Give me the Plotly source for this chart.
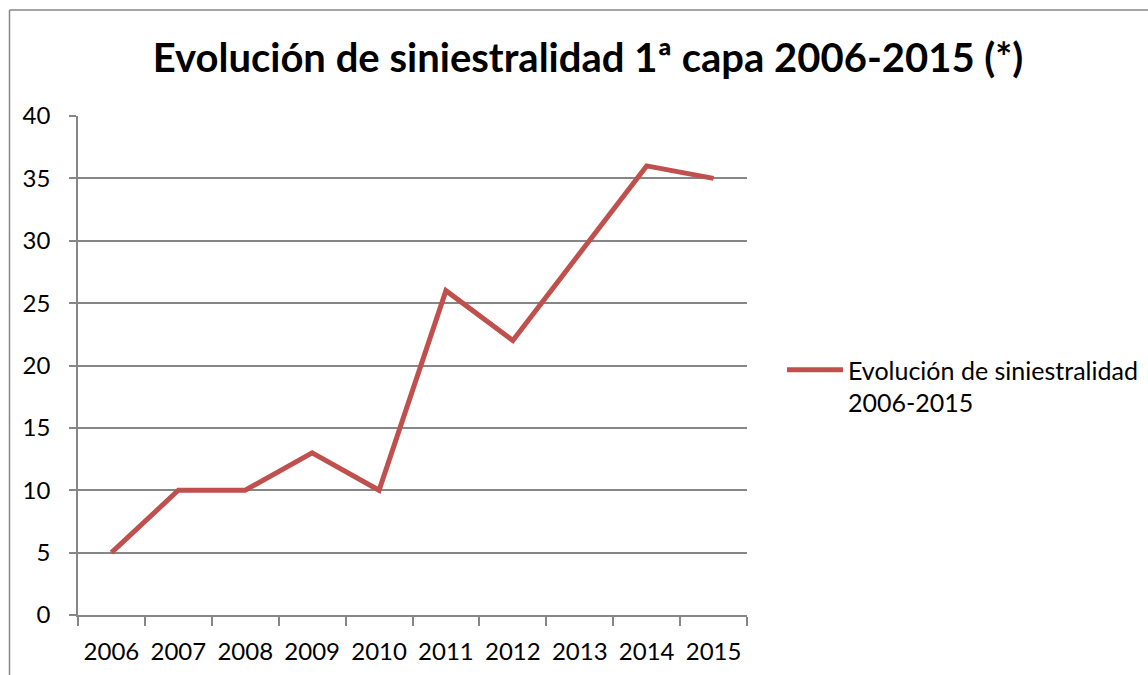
import plotly.graph_objects as go

years = ["2006", "2007", "2008", "2009", "2010", "2011", "2012", "2013", "2014", "2015"]
values = [5, 10, 10, 13, 10, 26, 22, 29, 36, 35]
series_name = "Evolución de siniestralidad<br>2006-2015"
title_text = "<b>Evolución de siniestralidad 1ª capa 2006-2015 (*)</b>"

FONT = "Lato"

fig = go.Figure()
fig.add_trace(go.Scatter(
    x=years, y=values, mode="lines", name=series_name,
    line=dict(color="#C0504D", width=5),
))

W, H = 1148, 675
PL, PR, PT, PB = 78, 747, 116, 615  # pixel coordinates of plot area
L, T = PL, PT
pw, ph = PR - PL, PB - PT
R = W - L - pw
B = H - T - ph

def px2x(px):
    return (px - PL) / pw

def py2y(py):
    return (PB - py) / ph

fig.update_layout(
    width=W, height=H,
    margin=dict(l=L, r=R, t=T, b=B, autoexpand=False),
    paper_bgcolor="white", plot_bgcolor="white",
    font=dict(family=FONT, size=24, color="#000000"),
    title=dict(text=title_text, x=588 / W, xanchor="center",
               y=1 - 58 / H, yanchor="middle",
               font=dict(family=FONT, size=40, color="#000000")),
    showlegend=True,
    legend=dict(x=px2x(782), y=py2y(347), xanchor="left", yanchor="top",
                font=dict(family=FONT, size=25), itemwidth=56, tracegroupgap=0,
                valign="top", bgcolor="rgba(0,0,0,0)"),
    xaxis=dict(
        type="category", showgrid=False, showline=True, linecolor="#868686", linewidth=1.5,
        ticks="outside", ticklen=9, tickcolor="#868686", tickwidth=1.5,
        tickson="boundaries", tickfont=dict(family=FONT, size=24), fixedrange=True,
        range=[-0.5, 9.5], ticklabelstandoff=14, automargin=False,
    ),
    yaxis=dict(
        range=[0, 40], dtick=5, showgrid=True, gridcolor="#868686", gridwidth=1.5,
        showline=True, linecolor="#868686", linewidth=1.5, zeroline=False,
        ticks="outside", ticklen=7, tickcolor="#868686", tickwidth=1.5,
        tickfont=dict(family=FONT, size=24), ticklabelstandoff=14, fixedrange=True,
        automargin=False,
    ),
)

# chart-area border (top and left edges visible in the frame)
fig.add_shape(type="line", xref="paper", yref="paper",
              x0=px2x(9.5), x1=px2x(W + 2), y0=py2y(10), y1=py2y(10),
              line=dict(color="#868686", width=1.5), layer="below")
fig.add_shape(type="line", xref="paper", yref="paper",
              x0=px2x(9.5), x1=px2x(9.5), y0=py2y(10), y1=py2y(H + 2),
              line=dict(color="#868686", width=1.5), layer="below")

fig.write_html(
    "out.html",
    config={"displayModeBar": False},
    post_script="document.body.style.margin='0';document.body.style.overflow='hidden';"
                "document.documentElement.style.overflow='hidden';",
)
